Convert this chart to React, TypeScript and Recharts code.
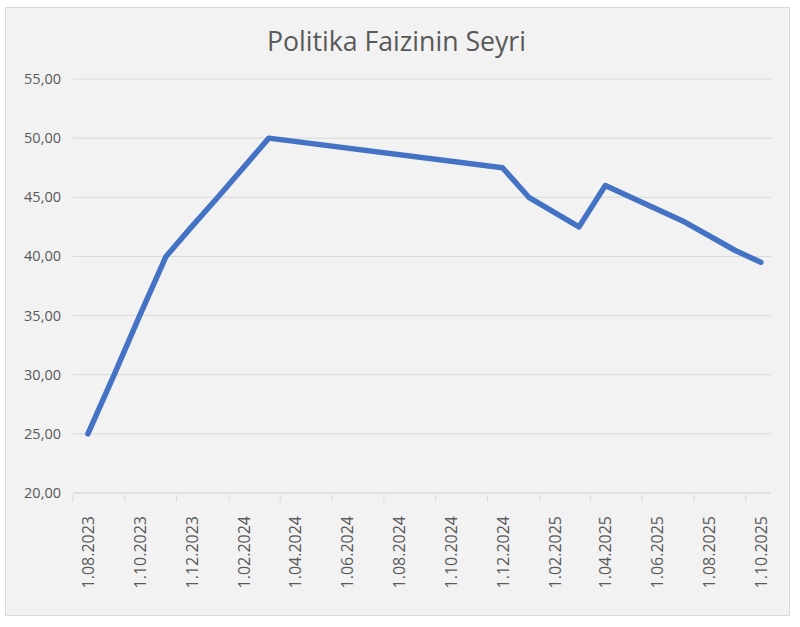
import { CartesianGrid, Line, LineChart, XAxis, YAxis } from "recharts";

// politika faizi değişim tarihleri (ayın ilk günü) ve oranlar
const RATE_DATES = [
  "2023-08-01",
  "2023-09-01",
  "2023-10-01",
  "2023-11-01",
  "2023-12-01",
  "2024-01-01",
  "2024-03-01",
  "2024-12-01",
  "2025-01-01",
  "2025-03-01",
  "2025-04-01",
  "2025-07-01",
  "2025-09-01",
  "2025-10-01",
];
const RATE_VALUES = [25, 30, 35, 40, 42.5, 45, 50, 47.5, 45, 42.5, 46, 43, 40.5, 39.5];

const X_TICK_DATES = [
  "2023-08-01",
  "2023-10-01",
  "2023-12-01",
  "2024-02-01",
  "2024-04-01",
  "2024-06-01",
  "2024-08-01",
  "2024-10-01",
  "2024-12-01",
  "2025-02-01",
  "2025-04-01",
  "2025-06-01",
  "2025-08-01",
  "2025-10-01",
];
const Y_TICKS = [20, 25, 30, 35, 40, 45, 50, 55];

const TITLE = "Politika Faizinin Seyri";
const FONT = "'Open Sans', 'Noto Sans', sans-serif";
const TEXT_COLOR = "#595959";
const GRID_COLOR = "#d9d9d9";
const LINE_COLOR = "#4472C4";

const toTime = (s: string) => {
  const [y, m, d] = s.split("-").map(Number);
  return Date.UTC(y, m - 1, d);
};

const DAY = 86400000;
const data = RATE_DATES.map((d, i) => ({ t: toTime(d), rate: RATE_VALUES[i] }));
const xTicks = X_TICK_DATES.map(toTime);
// Excel tarih ekseni: ilk ve son etiketin yarım ay dışına taşar
const xDomain = [toTime("2023-08-01") - 17.5 * DAY, toTime("2025-10-01") + 12 * DAY];

function formatDate(t: number) {
  const d = new Date(t);
  const mm = String(d.getUTCMonth() + 1).padStart(2, "0");
  return `${d.getUTCDate()}.${mm}.${d.getUTCFullYear()}`;
}

function formatRate(v: number) {
  return v.toFixed(2).replace(".", ",");
}

function XTick(props: any) {
  const { x, y, payload } = props;
  return (
    <g>
      <line x1={x - 15} x2={x - 15} y1={y} y2={y + 7} stroke={GRID_COLOR} />
      <text
        x={0}
        y={0}
        transform={`translate(${x + 6},${y + 21}) rotate(-90)`}
        textAnchor="end"
        fontSize={16}
        fontFamily={FONT}
        fill={TEXT_COLOR}
      >
        {formatDate(payload.value)}
      </text>
    </g>
  );
}

function YTick(props: any) {
  const { y, payload } = props;
  return (
    <text
      x={55}
      y={y + 5}
      textAnchor="end"
      fontSize={14.5}
      fontFamily={FONT}
      fill={TEXT_COLOR}
    >
      {formatRate(payload.value)}
    </text>
  );
}

export default function App() {
  return (
    <div style={{ position: "absolute", left: 0, top: 0, width: 800, height: 627, background: "#fff" }}>
      <div
        style={{
          position: "absolute",
          left: 5,
          top: 7,
          width: 783,
          height: 607,
          background: "#f2f2f2",
          border: `1px solid ${GRID_COLOR}`,
        }}
      >
        <svg width={783} height={60} style={{ position: "absolute", left: 0, top: 0 }}>
          <text
            x={261}
            y={43}
            fontSize={28}
            fontFamily={FONT}
            fill={TEXT_COLOR}
            textLength={259}
            lengthAdjust="spacingAndGlyphs"
          >
            {TITLE}
          </text>
        </svg>
        <LineChart
          width={783}
          height={607}
          data={data}
          margin={{ top: 71, right: 18, bottom: 0, left: 0 }}
          style={{ position: "absolute", left: 0, top: 0 }}
        >
          <CartesianGrid vertical={false} stroke={GRID_COLOR} />
          <XAxis
            dataKey="t"
            type="number"
            scale="time"
            domain={xDomain}
            ticks={xTicks}
            tick={<XTick />}
            tickLine={false}
            tickSize={0}
            height={122}
            axisLine={{ stroke: GRID_COLOR }}
            interval={0}
            allowDataOverflow
          />
          <YAxis
            type="number"
            domain={[20, 55]}
            ticks={Y_TICKS}
            tick={<YTick />}
            width={67}
            axisLine={false}
            tickLine={false}
            interval={0}
          />
          <Line
            dataKey="rate"
            type="linear"
            stroke={LINE_COLOR}
            strokeWidth={5.5}
            strokeLinejoin="round"
            strokeLinecap="round"
            dot={false}
            activeDot={false}
            isAnimationActive={false}
          />
        </LineChart>
      </div>
    </div>
  );
}
